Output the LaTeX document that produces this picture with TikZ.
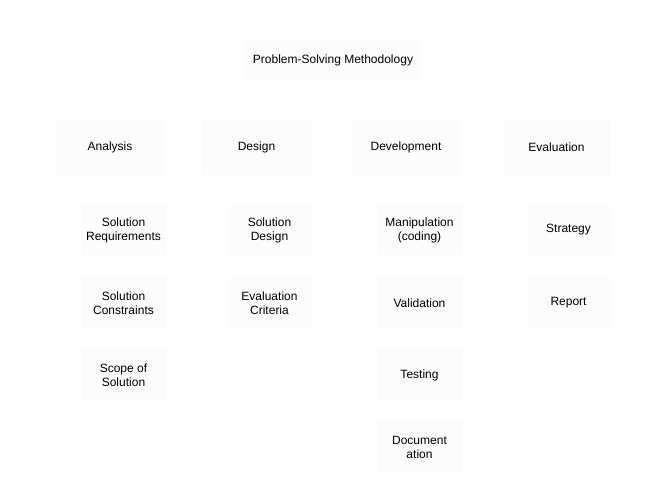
\documentclass[tikz,border=0pt]{standalone}
\usepackage{fontspec}
\setmainfont{Liberation Sans}
\definecolor{boxfill}{HTML}{FCFCFC}
\begin{document}
\begin{tikzpicture}[x=1pt,y=1pt,
  every node/.style={font=\fontsize{12}{14}\selectfont, align=center, inner sep=0pt},
  bigbox/.style={fill=boxfill, draw=none, minimum width=108pt, minimum height=56pt},
  subbox/.style={fill=boxfill, draw=none, minimum width=84pt, minimum height=50pt},
  titlebox/.style={fill=boxfill, draw=none, minimum width=176pt, minimum height=40pt}]
\useasboundingbox[fill=white] (0,0) rectangle (668,492);
\node[titlebox] (title) at (333,432) {Problem-Solving Methodology};
\node[bigbox, minimum width=110pt] (analysis) at (110,345) {Analysis};
\node[bigbox, minimum width=109pt] (design) at (256.5,345) {Design};
\node[bigbox] (development) at (406,345) {Development};
\node[bigbox, minimum width=107pt] (evaluation) at (556.5,345) {Evaluation};
\node[subbox] (solreq) at (123.5,262) {Solution\\Requirements};
\node[subbox] (solcon) at (123.5,189) {Solution\\Constraints};
\node[subbox] (scope) at (123.5,117) {Scope of\\Solution};
\node[subbox] (soldes) at (269.5,262) {Solution\\Design};
\node[subbox] (evalcrit) at (269.5,189) {Evaluation\\Criteria};
\node[subbox] (manip) at (419.5,262) {Manipulation\\(coding)};
\node[subbox] (valid) at (419.5,189) {Validation};
\node[subbox] (testing) at (419.5,117) {Testing};
\node[subbox] (doc) at (419.5,44.5) {Document\\ation};
\node[subbox] (strategy) at (568.5,262) {Strategy};
\node[subbox] (report) at (568.5,189) {Report};
\end{tikzpicture}
\end{document}
